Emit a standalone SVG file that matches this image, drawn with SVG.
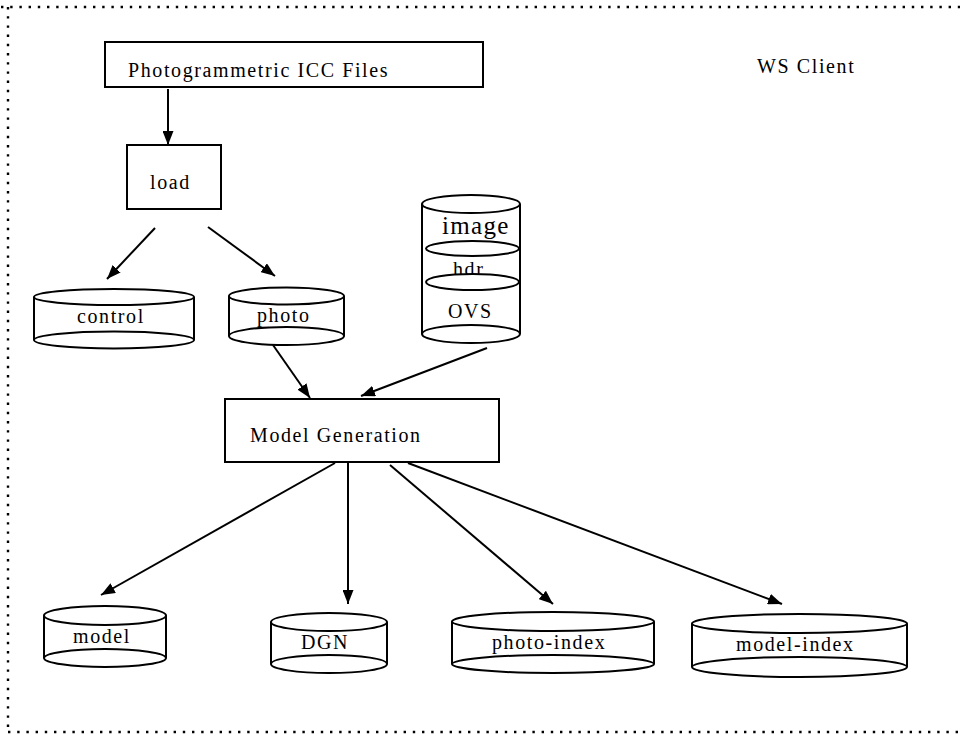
<svg xmlns="http://www.w3.org/2000/svg" width="960" height="737" viewBox="0 0 960 737">
<defs>
<marker id="ah" markerWidth="14" markerHeight="11" refX="14" refY="5.5" orient="auto" markerUnits="userSpaceOnUse">
<path d="M0,0 L14,5.5 L0,11 Z" fill="#000"/>
</marker>
<style>
.t{font-family:"Liberation Serif","Times New Roman",serif;font-size:20px;letter-spacing:1.6px;fill:#000}
.b{fill:#fff;stroke:#000;stroke-width:2}
.c{fill:#fff;stroke:#000;stroke-width:2}
.l{stroke:#000;stroke-width:2}
.e{fill:none;stroke:#000;stroke-width:2;marker-end:url(#ah)}
.dot{fill:none;stroke:#000;stroke-width:2.4;stroke-dasharray:2.4 6.8}
</style>
</defs>
<rect width="960" height="737" fill="#fff"/>
<g id="border">
<line class="dot" x1="1" y1="7" x2="960" y2="7"/>
<line class="dot" x1="8" y1="7" x2="8" y2="733"/>
<line class="dot" x1="8" y1="732" x2="960" y2="732"/>
</g>
<g id="ws-client"><text class="t" x="757" y="73">WS Client</text></g>
<g id="connectors">
<line class="e" x1="168" y1="89" x2="168" y2="145"/>
<line class="e" x1="155" y1="228" x2="107" y2="279"/>
<line class="e" x1="208" y1="227" x2="275" y2="276"/>
<line class="e" x1="273" y1="345" x2="310" y2="398"/>
<line class="e" x1="487" y1="348" x2="361" y2="396"/>
<line class="e" x1="335" y1="463" x2="101" y2="595"/>
<line class="e" x1="348" y1="463" x2="348" y2="604"/>
<line class="e" x1="390" y1="465" x2="553" y2="604"/>
<line class="e" x1="408" y1="463" x2="782" y2="604"/>
</g>
<g id="photogrammetric">
<rect class="b" x="105" y="42" width="378" height="45"/>
<text class="t" x="128" y="77">Photogrammetric ICC Files</text>
</g>
<g id="load">
<rect class="b" x="127" y="145" width="94" height="64"/>
<text class="t" x="150" y="189">load</text>
</g>
<g id="control">
<line class="l" x1="34" y1="297" x2="34" y2="340"/>
<line class="l" x1="194" y1="297" x2="194" y2="340"/>
<ellipse class="c" cx="114" cy="340" rx="80" ry="8.5"/>
<ellipse class="c" cx="114" cy="297" rx="80" ry="8"/>
<text class="t" x="77" y="323">control</text>
</g>
<g id="photo">
<line class="l" x1="229" y1="296" x2="229" y2="336"/>
<line class="l" x1="344" y1="296" x2="344" y2="336"/>
<ellipse class="c" cx="286.5" cy="336" rx="57.5" ry="9"/>
<ellipse class="c" cx="286.5" cy="296" rx="57.5" ry="8.5"/>
<text class="t" x="257" y="322">photo</text>
</g>
<g id="image-store">
<line class="l" x1="422" y1="204" x2="422" y2="334"/>
<line class="l" x1="520" y1="204" x2="520" y2="334"/>
<ellipse class="c" cx="471" cy="334" rx="49" ry="9"/>
<ellipse class="c" cx="471" cy="204" rx="49" ry="9"/>
<text class="t" x="442" y="234" style="font-size:25px;letter-spacing:1.3px">image</text>
<ellipse class="c" cx="472.5" cy="248.5" rx="46.5" ry="7.5"/>
<text class="t" x="453" y="276">hdr</text>
<ellipse class="c" cx="472.5" cy="282" rx="46.5" ry="8"/>
<text class="t" x="448" y="318">OVS</text>
</g>
<g id="model-generation">
<rect class="b" x="225" y="399" width="274" height="63"/>
<text class="t" x="250" y="442">Model Generation</text>
</g>
<g id="model">
<line class="l" x1="44" y1="615.5" x2="44" y2="658"/>
<line class="l" x1="166" y1="615.5" x2="166" y2="658"/>
<ellipse class="c" cx="105" cy="658" rx="61" ry="9"/>
<ellipse class="c" cx="105" cy="615.5" rx="61" ry="9.5"/>
<text class="t" x="73" y="643">model</text>
</g>
<g id="dgn">
<line class="l" x1="271" y1="622" x2="271" y2="664"/>
<line class="l" x1="387" y1="622" x2="387" y2="664"/>
<ellipse class="c" cx="329" cy="664" rx="58" ry="9"/>
<ellipse class="c" cx="329" cy="622" rx="58" ry="9"/>
<text class="t" x="301" y="649">DGN</text>
</g>
<g id="photo-index">
<line class="l" x1="452" y1="621.5" x2="452" y2="664"/>
<line class="l" x1="654" y1="621.5" x2="654" y2="664"/>
<ellipse class="c" cx="553" cy="664" rx="101" ry="9"/>
<ellipse class="c" cx="553" cy="621.5" rx="101" ry="9.5"/>
<text class="t" x="492" y="649">photo-index</text>
</g>
<g id="model-index">
<line class="l" x1="692" y1="623.5" x2="692" y2="667"/>
<line class="l" x1="907" y1="623.5" x2="907" y2="667"/>
<ellipse class="c" cx="799.5" cy="667" rx="107.5" ry="10"/>
<ellipse class="c" cx="799.5" cy="623.5" rx="107.5" ry="9.5"/>
<text class="t" x="736" y="651">model-index</text>
</g>
</svg>
